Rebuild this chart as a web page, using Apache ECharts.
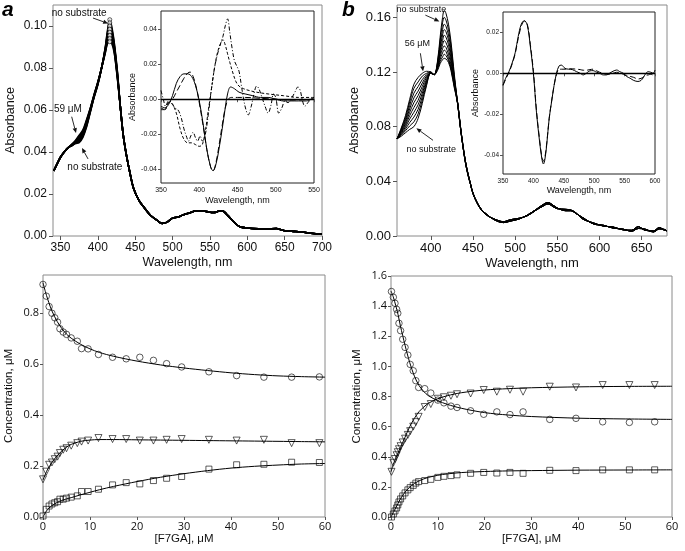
<!DOCTYPE html>
<html><head><meta charset="utf-8">
<script src="https://cdn.jsdelivr.net/npm/echarts@6/dist/echarts.min.js"></script>
<style>html,body{margin:0;padding:0;background:#fff}#c{width:685px;height:551px}</style>
</head><body><div id="c"></div>
<script>
// ---------- Panel a (top) : spectra ----------
const HA = [341,345,350,355,360,365,370,375,380,385,390,395,400,405,410,413,416,419,422,426];
const A0 = [.031,.034,.0375,.040,.042,.043,.044,.0445,.047,.052,.059,.066,.072,.080,.090,.098,.103,.099,.092,.079];
const A1 = [.031,.034,.0375,.040,.042,.043,.0442,.045,.0475,.0525,.0593,.0662,.0722,.080,.0896,.0971,.1015,.0979,.0913,.0785];
const A2 = [.031,.034,.0375,.040,.042,.0431,.0444,.0455,.048,.053,.0596,.0664,.0724,.080,.0892,.0962,.100,.0968,.0906,.078];
const A3 = [.031,.034,.0375,.040,.042,.0432,.0446,.046,.0485,.0535,.0599,.0666,.0726,.080,.0888,.0953,.0985,.0957,.0899,.0775];
const A4 = [.031,.034,.0375,.040,.042,.0433,.0448,.0465,.049,.054,.0602,.0668,.0728,.080,.0884,.0944,.097,.0946,.0892,.077];
const A5 = [.031,.034,.0375,.040,.042,.0434,.045,.047,.0495,.0545,.0605,.067,.073,.080,.088,.0935,.0955,.0935,.0885,.0765];
const A6 = [.031,.034,.0375,.040,.042,.0435,.0452,.0475,.050,.055,.0608,.0672,.0732,.080,.0876,.0926,.094,.0924,.0878,.076];
const A7 = [.031,.034,.0375,.040,.042,.0436,.0455,.048,.0505,.0555,.061,.0674,.0734,.080,.0872,.0917,.0925,.0913,.0871,.0755];
const TAx = [430,434,438,443,448,455,461,470,479,486,492,500,507,514,523,532,540,546,555,564,568,572,577,584,590,600,615,626,639,645,653,662,671,685,697,700];
const TAy = [.062,.048,.039,.030,.0225,.017,.014,.010,.0076,.006,.0065,.0085,.009,.010,.011,.012,.012,.0116,.0112,.012,.0118,.0105,.0086,.006,.0044,.0038,.0034,.0033,.0036,.003,.0024,.0022,.002,.0013,.001,.001];

// ---------- Inset a : difference spectra ----------
const IA1x = [350,355,360,365,370,375,380,385,390,395,400,405,410,415,418,422,426,430,434,437,441,446,452,460,470,480,490,500,510,520,530,540,550];
const IA1y = [-.004,-.005,-.003,.002,.009,.013,.0145,.0145,.013,.008,-.001,-.014,-.029,-.039,-.041,-.037,-.028,-.017,-.005,.003,.007,.006,.004,.003,.002,.001,.001,0,-.001,-.001,-.001,-.001,.001];
const IA2x = [350,355,360,365,370,375,380,385,388,392,396,400,405,410,415,418,422,426,430,434,438,442,450,460,480,500,520,550];
const IA2y = [-.006,-.006,-.002,0,.004,.008,.012,.015,.0155,.013,.007,-.002,-.015,-.029,-.039,-.041,-.036,-.026,-.015,-.005,0,.001,.001,.001,.0005,0,-.0005,0];
const IA3x = [350,355,360,365,370,375,380,385,390,395,400,404,408,412,416,420,424,428,431,434,437,440,444,448,452,458,465,475,490,510,530,550];
const IA3y = [-.005,-.006,-.002,-.003,-.008,-.017,-.023,-.025,-.025,-.026,-.027,-.026,-.018,-.006,.006,.018,.027,.032,.034,.031,.026,.021,.015,.010,.0075,.006,.005,.004,.003,.002,.001,.001];
const IA4x = [350,353,356,360,364,368,372,376,380,383,386,389,392,395,398,401,404,408,412,416,420,424,428,431,434,437,440,443,446,449,452,455,458,461,464,468,472,475,478,482,486,490,494,497,500,504,508,512,516,520,525,529,532,535,538,542,546,550];
const IA4y = [.005,0,-.004,-.001,-.002,-.005,-.006,-.010,-.017,-.021,-.024,-.021,-.019,-.022,-.024,-.021,-.024,-.020,-.008,.006,.018,.026,.032,.036,.042,.046,.038,.029,.022,.019,.016,.008,0,-.006,-.009,-.004,.004,.0075,.006,.001,-.004,-.008,-.003,.003,.001,-.008,-.005,-.001,-.002,0,.004,.007,.005,-.001,-.004,-.002,0,.001];

// ---------- Panel b (top) : spectra ----------
const HB = [360,365,370,375,380,385,390,395,400,404,408,411,414,416,418,421,424,428];
const B0 = [.071,.073,.0755,.078,.080,.086,.097,.110,.119,.118,.128,.145,.160,.165,.163,.155,.142,.118];
const B1 = [.071,.0737,.077,.0805,.0835,.0893,.0995,.111,.119,.118,.127,.142,.156,.160,.158,.151,.139,.116];
const B2 = [.071,.0743,.0783,.083,.087,.0927,.102,.1125,.119,.118,.126,.139,.151,.155,.1535,.147,.136,.115];
const B3 = [.071,.075,.0797,.0855,.0905,.096,.1045,.1135,.1195,.118,.125,.137,.147,.151,.1495,.1435,.133,.114];
const B4 = [.071,.0757,.081,.088,.094,.0993,.107,.1145,.1195,.118,.1245,.135,.143,.147,.1455,.140,.130,.113];
const B5 = [.071,.0763,.0823,.0905,.0975,.1027,.1095,.116,.1195,.118,.124,.133,.140,.143,.1415,.1365,.1275,.112];
const B6 = [.071,.077,.0837,.093,.101,.106,.112,.117,.1195,.118,.1235,.131,.137,.139,.138,.133,.125,.111];
const B7 = [.071,.0777,.085,.0955,.1045,.1093,.1145,.118,.120,.118,.123,.129,.134,.136,.135,.130,.123,.110];
const B8 = [.071,.0783,.0865,.098,.108,.1127,.117,.119,.120,.118,.122,.1275,.131,.133,.132,.1285,.122,.109];
const B9 = [.071,.079,.088,.100,.111,.116,.119,.1205,.120,.118,.121,.126,.129,.130,.1295,.127,.121,.108];
const TBx = [432,435,438,441,444,447,450,455,460,467,475,486,495,505,515,525,532,539,545,550,560,566,572,580,593,605,616,628,638,646,654,664,671,677,680];
const TBy = [.096,.080,.066,.054,.045,.038,.031,.024,.019,.015,.0125,.0105,.012,.013,.015,.019,.0215,.0235,.0215,.020,.0195,.019,.017,.0125,.0095,.0072,.0066,.0045,.0042,.0068,.0042,.0037,.0062,.0042,.004];
const TBy2 = [.097,.081,.067,.055,.046,.0385,.0315,.0245,.0195,.0155,.012,.0098,.011,.0125,.0155,.0195,.0225,.0245,.0225,.0205,.0185,.0185,.0165,.0135,.0088,.0078,.0058,.005,.0035,.0055,.005,.003,.0052,.0048,.0035];

// ---------- Inset b ----------
const IBx = [350,355,360,365,370,375,380,385,390,395,400,405,410,414,416.5,419,422,426,430,434,438,442,446,452,458,464,471,477,482,487,493,498,504,509,515,520,525,531,537,542,548,553,559,565,572,577,581,585,589,593,597,600];
const IBsolid = [-.0057,-.002,.001,.005,.010,.018,.024,.0258,.0235,.013,0,-.019,-.033,-.042,-.0444,-.042,-.0347,-.022,-.0138,-.006,0,.0035,.004,.0024,.002,.0018,.0008,0,-.0008,0,.0012,.0013,.0005,0,-.0008,-.0008,0,.001,.0016,.0008,0,-.0015,-.0024,-.0035,-.004,-.0035,-.002,0,.0008,.0005,0,.0016];
const IBdash = [-.006,-.0025,.0005,.0045,.0095,.017,.023,.0255,.024,.014,.001,-.018,-.032,-.041,-.043,-.041,-.034,-.022,-.0135,-.006,-.0005,.002,.002,.002,.0022,.0022,.002,.0018,.0015,.0015,.0018,.002,.0012,.0005,0,-.0005,-.0005,0,.0005,.0003,-.0005,-.001,-.0015,-.002,-.0028,-.0025,-.0018,-.001,-.0008,-.0005,-.0008,-.0005];

// ---------- Bottom a : titration ----------
const XA = [0,0.7,1.3,1.9,2.5,3.1,3.6,4.3,5.0,6.0,7.3,8.2,9.6,11.8,14.8,17.7,20.6,23.5,26.3,29.5,35.3,41.2,47.0,52.9,58.8];
const CA_circ = [0.913,0.867,0.826,0.80,0.782,0.765,0.739,0.726,0.717,0.703,0.69,0.661,0.66,0.638,0.627,0.621,0.627,0.615,0.602,0.589,0.57,0.555,0.549,0.549,0.55];
const CA_tri = [0.148,0.178,0.205,0.214,0.227,0.237,0.251,0.264,0.27,0.28,0.29,0.296,0.30,0.31,0.306,0.306,0.30,0.30,0.303,0.306,0.303,0.30,0.303,0.29,0.29];
const CA_sq = [0.004,0.03,0.043,0.051,0.056,0.06,0.07,0.07,0.074,0.078,0.083,0.1,0.1,0.109,0.126,0.135,0.13,0.143,0.152,0.159,0.188,0.205,0.207,0.215,0.214];
const FAx = [0,0.5,1,1.5,2,3,4,5,6,8,10,12,15,20,25,30,35,40,45,50,55,60];
const FA_circ = [0.92,0.885,0.855,0.828,0.805,0.768,0.74,0.718,0.702,0.678,0.66,0.646,0.631,0.612,0.597,0.585,0.575,0.566,0.559,0.554,0.551,0.549];
const FA_tri = [0.145,0.168,0.188,0.203,0.217,0.24,0.259,0.274,0.285,0.297,0.302,0.304,0.304,0.303,0.302,0.301,0.3,0.299,0.298,0.297,0.296,0.295];
const FA_sq = [0,0.017,0.03,0.039,0.046,0.057,0.065,0.071,0.076,0.087,0.097,0.107,0.12,0.139,0.156,0.17,0.182,0.192,0.199,0.204,0.208,0.21];

// ---------- Bottom b : titration ----------
const XB = [0.1,0.5,0.85,1.2,1.45,1.7,2.05,2.5,3.0,3.6,4.1,4.75,5.3,5.9,7.2,8.5,10.0,11.3,12.8,14.1,17.0,19.8,22.6,25.4,28.2,33.9,39.5,45.2,50.9,56.3];
const CB_circ = [1.497,1.459,1.419,1.379,1.353,1.286,1.237,1.18,1.126,1.075,1.013,0.971,0.905,0.86,0.852,0.823,0.776,0.758,0.736,0.727,0.705,0.682,0.698,0.68,0.698,0.648,0.655,0.632,0.628,0.632];
const CB_tri = [0.30,0.36,0.385,0.41,0.43,0.45,0.47,0.495,0.52,0.545,0.57,0.60,0.63,0.665,0.73,0.75,0.785,0.795,0.805,0.815,0.82,0.843,0.832,0.845,0.832,0.865,0.86,0.876,0.876,0.876];
const CB_sq = [0.0,0.02,0.04,0.06,0.08,0.10,0.12,0.14,0.16,0.18,0.195,0.21,0.225,0.235,0.242,0.25,0.263,0.27,0.275,0.28,0.29,0.296,0.292,0.296,0.29,0.31,0.308,0.313,0.313,0.313];
const FBx = [0,0.5,1,1.5,2,3,4,5,6,7,8,10,12,15,20,25,30,40,50,60];
const FB_circ = [1.5,1.46,1.405,1.345,1.27,1.14,1.025,0.935,0.872,0.833,0.805,0.772,0.748,0.722,0.693,0.677,0.667,0.656,0.651,0.648];
const FB_tri = [0.30,0.35,0.39,0.425,0.46,0.53,0.6,0.655,0.70,0.73,0.755,0.785,0.805,0.825,0.843,0.852,0.858,0.864,0.867,0.868];
const FB_sq = [0,0.03,0.06,0.09,0.12,0.165,0.198,0.222,0.24,0.253,0.263,0.277,0.286,0.295,0.302,0.306,0.308,0.311,0.312,0.313];

// tick labels
const TA_XT = [350,400,450,500,550,600,650,700];
const TA_YT = [0,0.02,0.04,0.06,0.08,0.10];
const IA_XT = [350,400,450,500,550];
const IA_YT = [-0.04,-0.02,0,0.02,0.04];
const TB_XT = [400,450,500,550,600,650];
const TB_YT = [0,0.04,0.08,0.12,0.16];
const IB_XT = [350,400,450,500,550,600];
const IB_YT = [-0.04,-0.02,0,0.02];
const BA_YT = [0,0.2,0.4,0.6,0.8];
const BB_YT = [0,0.2,0.4,0.6,0.8,1.0,1.2,1.4,1.6];
const B_XT = [0,10,20,30,40,50,60];

// ---------- build ----------
const zip = (xs, ys) => xs.map((x, i) => [x, ys[i]]);
const FONT = 'Liberation Sans, Arial, sans-serif';
const chart = echarts.init(document.getElementById('c'));

function xA(g, min, max, ticks, opt) {
  return {
    gridIndex: g, type: 'value', min, max,
    axisLine: {show: false},
    axisTick: {show: true, inside: false, length: opt.tl || 4, customValues: ticks, lineStyle: {color: opt.tc || '#555'}},
    axisLabel: {customValues: ticks, fontSize: opt.fs, fontFamily: opt.ff || FONT, color: '#111', margin: opt.m || 6,
      formatter: v => opt.fmt ? opt.fmt(v) : String(v)},
    splitLine: {show: false},
    name: opt.name, nameLocation: 'middle', nameGap: opt.ng,
    nameTextStyle: {fontSize: opt.nfs, fontFamily: FONT, color: '#111'}
  };
}

const grids = [
  {left: 53, top: 5, width: 269, height: 231},
  {left: 161, top: 11, width: 153, height: 172},
  {left: 397, top: 5, width: 270, height: 231},
  {left: 503, top: 12, width: 152, height: 162},
  {left: 43, top: 275, width: 282, height: 242},
  {left: 391, top: 276, width: 281, height: 241}
].map((g, i) => Object.assign(g, {show: true, borderColor: (i === 1 || i === 3) ? '#222' : '#8a8a8a', borderWidth: 1, backgroundColor: '#fff', containLabel: false}));

const BF = 'Open Sans, sans-serif';
const xAxes = [
  xA(0, 340, 700, TA_XT, {fs: 12, name: 'Wavelength, nm', ng: 20, nfs: 12.5}),
  xA(1, 350, 550, IA_XT, {fs: 7, name: 'Wavelength, nm', ng: 13, nfs: 9, tl: 3, m: 4}),
  xA(2, 360, 680, TB_XT, {fs: 13, name: 'Wavelength, nm', ng: 21, nfs: 13}),
  xA(3, 350, 600, IB_XT, {fs: 6.5, name: 'Wavelength, nm', ng: 12, nfs: 9, tl: 3, m: 4}),
  xA(4, 0, 60, B_XT, {fs: 11, name: '[F7GA], μM', ng: 12, nfs: 11.5, tl: 3, m: 4, ff: BF}),
  xA(5, 0, 60, B_XT, {fs: 11, name: '[F7GA], μM', ng: 12, nfs: 11.5, tl: 3, m: 4, ff: BF})
];
const yAxes = [
  xA(0, 0, 0.11, TA_YT, {fs: 12, name: 'Absorbance', ng: 36, nfs: 12.5, fmt: v => v.toFixed(2)}),
  xA(1, -0.048, 0.0505, IA_YT, {fs: 7, name: 'Absorbance', ng: 21, nfs: 9, tl: 3, m: 4, fmt: v => v.toFixed(2)}),
  xA(2, 0, 0.169, TB_YT, {fs: 13, name: 'Absorbance', ng: 36, nfs: 12.5, fmt: v => v.toFixed(2)}),
  xA(3, -0.0493, 0.030, IB_YT, {fs: 6.5, name: 'Absorbance', ng: 22, nfs: 9, tl: 3, m: 4, fmt: v => v.toFixed(2)}),
  xA(4, 0, 0.95, BA_YT, {fs: 11, name: 'Concentration, μM', ng: 28, nfs: 11.5, tl: 3, m: 4, ff: BF, fmt: v => v.toFixed(1)}),
  xA(5, 0, 1.6, BB_YT, {fs: 11, name: 'Concentration, μM', ng: 28, nfs: 11.5, tl: 3, m: 4, ff: BF, fmt: v => v.toFixed(1)})
];

const series = [];
function line(g, data, opt) {
  opt = opt || {};
  series.push({type: 'line', xAxisIndex: g, yAxisIndex: g, data, showSymbol: false, smooth: opt.smooth === undefined ? 0.35 : opt.smooth,
    silent: true, animation: false, z: opt.z || 3,
    lineStyle: {color: '#000', width: opt.w || 1, type: opt.type || 'solid'}, markLine: opt.markLine});
}
function scat(g, xs, ys, sym, size, rot) {
  series.push({type: 'scatter', xAxisIndex: g, yAxisIndex: g, data: zip(xs, ys), symbol: sym, symbolSize: size, symbolRotate: rot || 0,
    silent: true, animation: false, z: 2,
    itemStyle: {color: 'rgba(255,255,255,0)', borderColor: '#000', borderWidth: 0.8}});
}

// panel a spectra
const curvesA = [A0, A1, A2, A3, A4, A5, A6, A7];
curvesA.forEach(c => line(0, zip(HA, c).concat(zip(TAx, TAy)), {w: 1.6}));
series.push({type: 'scatter', xAxisIndex: 0, yAxisIndex: 0, silent: true, animation: false, symbol: 'circle', symbolSize: 4,
  itemStyle: {color: '#fff', borderColor: '#000', borderWidth: 0.8}, z: 4,
  data: curvesA.map(c => { const m = Math.max.apply(null, c); return [HA[c.indexOf(m)], m]; })});

// inset a
const zeroLine = {silent: true, symbol: 'none', label: {show: false}, lineStyle: {color: '#000', width: 1.3, type: 'solid'}, data: [{yAxis: 0}]};
line(1, zip(IA1x, IA1y), {markLine: zeroLine});
line(1, zip(IA2x, IA2y), {type: [6, 3]});
line(1, zip(IA3x, IA3y), {type: [3, 2]});
line(1, zip(IA4x, IA4y), {type: [4, 2, 1, 2]});

// panel b spectra
[B0, B1, B2, B3, B4, B5, B6, B7, B8, B9].forEach((c, i) => line(2, zip(HB, c).concat(zip(TBx, i % 2 ? TBy2 : TBy)), {w: 1}));

// inset b
line(3, zip(IBx, IBsolid), {markLine: zeroLine});
line(3, zip(IBx, IBdash), {type: [6, 3]});

// bottom a
scat(4, XA, CA_circ, 'circle', 6.5);
scat(4, XA, CA_tri, 'triangle', 7, 180);
scat(4, XA, CA_sq, 'rect', 6);
line(4, zip(FAx, FA_circ), {smooth: 0.3});
line(4, zip(FAx, FA_tri), {smooth: 0.3});
line(4, zip(FAx, FA_sq), {smooth: 0.3});

// bottom b
scat(5, XB, CB_circ, 'circle', 6.5);
scat(5, XB, CB_tri, 'triangle', 7, 180);
scat(5, XB, CB_sq, 'rect', 6);
line(5, zip(FBx, FB_circ), {smooth: 0.3});
line(5, zip(FBx, FB_tri), {smooth: 0.3});
line(5, zip(FBx, FB_sq), {smooth: 0.3});

chart.setOption({animation: false, grid: grids, xAxis: xAxes, yAxis: yAxes, series});

// ---------- annotations (positioned in data space) ----------
const notes = [
  [0, 'no substrate', [375, 0.1063], [393.5, 0.1038], [413.8, 0.1012], 10],
  [0, '59 μM', [360, 0.0605], [365, 0.0568], [370.8, 0.0490], 10],
  [0, 'no substrate', [396, 0.0329], [386.9, 0.0367], [378.8, 0.0419], 10],
  [2, 'no substrate', [388.9, 0.1660], [393.6, 0.1616], [410.2, 0.1570], 9],
  [2, '56 μM', [384.2, 0.1410], [387.7, 0.1337], [390.9, 0.1205], 9],
  [2, 'no substrate', [400.7, 0.0635], [402.7, 0.0700], [383.0, 0.0788], 9]
];
const gfx = [];
notes.forEach(n => {
  const p = chart.convertToPixel({gridIndex: n[0]}, n[2]);
  const a = chart.convertToPixel({gridIndex: n[0]}, n[3]);
  const b = chart.convertToPixel({gridIndex: n[0]}, n[4]);
  gfx.push({type: 'text', x: p[0], y: p[1], z: 10, style: {text: n[1], fontSize: n[5], fontFamily: FONT, fill: '#111',
    align: 'center', verticalAlign: 'middle', textAlign: 'center', textVerticalAlign: 'middle'}});
  const ang = Math.atan2(b[1] - a[1], b[0] - a[0]);
  const L = 5, W = 2.2;
  const bx = b[0] - L * Math.cos(ang), by = b[1] - L * Math.sin(ang);
  gfx.push({type: 'line', z: 10, shape: {x1: a[0], y1: a[1], x2: bx, y2: by}, style: {stroke: '#111', lineWidth: 0.9}});
  gfx.push({type: 'polygon', z: 10, shape: {points: [[b[0], b[1]],
    [bx - W * Math.sin(ang), by + W * Math.cos(ang)], [bx + W * Math.sin(ang), by - W * Math.cos(ang)]]}, style: {fill: '#111'}});
});
gfx.push({type: 'text', x: 2, y: 0, z: 10, style: {text: 'a', fontSize: 21, fontWeight: 'bold', fontStyle: 'italic', fontFamily: FONT, fill: '#000'}});
gfx.push({type: 'text', x: 342, y: 0, z: 10, style: {text: 'b', fontSize: 21, fontWeight: 'bold', fontStyle: 'italic', fontFamily: FONT, fill: '#000'}});
chart.setOption({graphic: gfx});
</script></body></html>
